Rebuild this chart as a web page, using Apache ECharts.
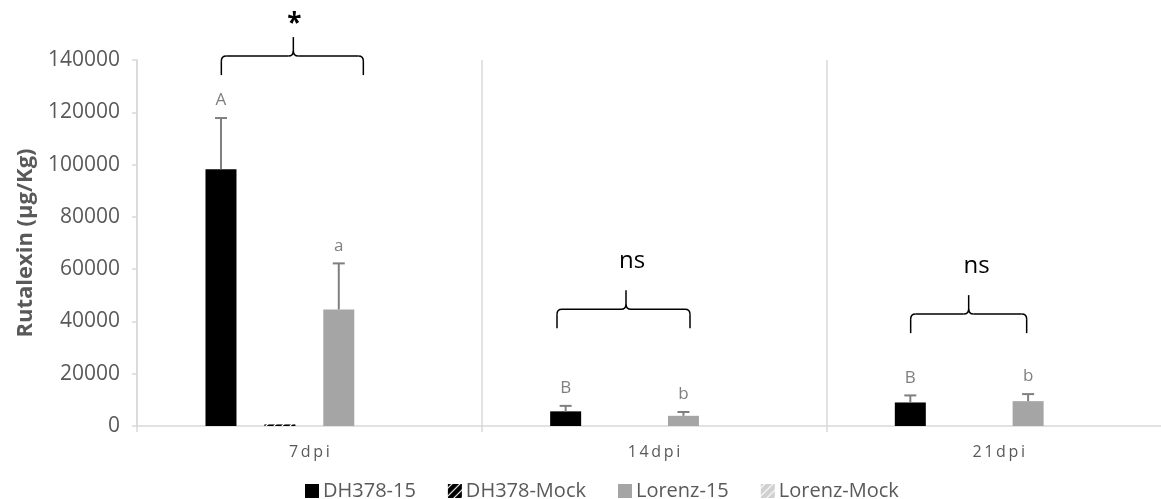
<!DOCTYPE html>
<html>
<head>
<meta charset="utf-8">
<script src="https://cdn.jsdelivr.net/npm/echarts@6/dist/echarts.min.js"></script>
<style>
html, body { margin: 0; padding: 0; background: #fff; }
#chart { width: 1161px; height: 499px; }
</style>
</head>
<body>
<div id="chart"></div>
<script>
// 数据
var categories = ['7dpi', '14dpi', '21dpi'];
var dh15 = [98200, 5600, 9000];
var dh15Err = [19600, 2100, 2700];
var dhMock = [600, 0, 0];
var lor15 = [44600, 3900, 9500];
var lor15Err = [17600, 1450, 2700];
var lorMock = [0, 0, 0];
var dhLetters = ['A', 'B', 'B'];
var lorLetters = ['a', 'b', 'b'];
var sigText = ['*', 'ns', 'ns'];
var braceLevel = [141500, 44700, 42800];

// 花括号的形状 (相对类别中心的像素偏移: 左, 右, 尖, 文字x, 文字y)
var braceShape = [[-88, 54, -16, 1, -1], [-97, 36, -28, 6, 17], [-88, 28, -30, 8, 17]];

var barW = 31;
var barGap = 0.9;
var txtColor = '#595959';
var font = '"Open Sans", sans-serif';

//斜线填充
function stripes(fg, bg, lw) {
	var c = document.createElement('canvas');
	c.width = 8;
	c.height = 8;
	var g = c.getContext('2d');
	g.fillStyle = bg;
	g.fillRect(0, 0, 8, 8);
	g.strokeStyle = fg;
	g.lineWidth = lw;
	g.beginPath();
	g.moveTo(-2, 10); g.lineTo(10, -2);
	g.moveTo(-6, 6); g.lineTo(6, -6);
	g.moveTo(2, 14); g.lineTo(14, 2);
	g.stroke();
	return c;
}

function errData(vals, errs, letters) {
	var out = [];
	for(var i = 0; i < vals.length; i++) {
		out.push([i, vals[i], errs[i], letters[i]]);
	}
	return out;
}

function errSeries(idx, vals, errs, letters) {
	return {
		type: 'custom',
		z: 5,
		silent: true,
		data: errData(vals, errs, letters),
		renderItem: function(params, api) {
			var off = (idx - 1.5) * barW * (1 + barGap);
			var p0 = api.coord([api.value(0), api.value(1)]);
			var p1 = api.coord([api.value(0), api.value(1) + api.value(2)]);
			var x = p0[0] + off;
			var st = { stroke: '#7f7f7f', lineWidth: 2 };
			return {
				type: 'group',
				children: [
					{ type: 'line', shape: { x1: x, y1: p0[1], x2: x, y2: p1[1] }, style: st },
					{ type: 'line', shape: { x1: x - 6, y1: p1[1], x2: x + 6, y2: p1[1] }, style: st },
					{ type: 'text', x: x, y: p1[1] - 9, style: {
						text: letters[params.dataIndex], fill: '#7f7f7f',
						font: '17px ' + font, align: 'center', verticalAlign: 'bottom'
					} }
				]
			};
		}
	};
}

var myChart = echarts.init(document.getElementById('chart'));

var legendNames = ['DH378-15', 'DH378-Mock', 'Lorenz-15', 'Lorenz-Mock'];
var legendPad = [0, 0, 16, 0];
var legendData = [];
for(var k = 0; k < legendNames.length; k++) {
	legendData.push({ name: legendNames[k], textStyle: { padding: [0, legendPad[k], 0, -1] } });
}

var option = {
	animation: false,
	grid: { left: 137, top: 60, width: 1034, height: 366, outerBoundsMode: 'none', containLabel: false },
	legend: {
		left: 300,
		top: 476,
		icon: 'rect',
		itemWidth: 14,
		itemHeight: 14,
		itemGap: 32,
		data: legendData,
		textStyle: { color: txtColor, fontSize: 20, fontFamily: font, padding: [0, 0, 0, -1] }
	},
	xAxis: {
		type: 'category',
		data: categories,
		axisLine: { lineStyle: { color: '#d9d9d9', width: 1.5 } },
		axisTick: { show: true, length: 6, lineStyle: { color: '#d9d9d9', width: 1.5 } },
		splitLine: { show: true, lineStyle: { color: '#d9d9d9', width: 1.5 } },
		axisLabel: {
			color: txtColor, fontSize: 16, fontFamily: font, margin: 18,
			formatter: function(v) { return v.split('').join('\u2009'); }
		}
	},
	yAxis: {
		type: 'value',
		min: 0,
		max: 140000,
		interval: 20000,
		name: 'Rutalexin (µg/Kg)',
		nameLocation: 'middle',
		nameGap: 96,
		nameTextStyle: { color: txtColor, fontSize: 22, fontWeight: 'bold', fontFamily: font },
		axisLine: { show: true, lineStyle: { color: '#d9d9d9', width: 1.5 } },
		axisTick: { show: true, length: 5, lineStyle: { color: '#d9d9d9', width: 1.5 } },
		splitLine: { show: false },
		axisLabel: {
			color: txtColor, fontSize: 21, fontFamily: font, margin: 17,
			formatter: function(v) { return String(v); }
		}
	},
	series: [
		{ name: 'DH378-15', type: 'bar', data: dh15, barWidth: barW, barGap: '90%', itemStyle: { color: '#000000' } },
		{ name: 'DH378-Mock', type: 'bar', data: dhMock, barWidth: barW, barGap: '90%',
			itemStyle: { color: { image: stripes('#000000', '#ffffff', 4.5), repeat: 'repeat' } } },
		{ name: 'Lorenz-15', type: 'bar', data: lor15, barWidth: barW, barGap: '90%', itemStyle: { color: '#a5a5a5' } },
		{ name: 'Lorenz-Mock', type: 'bar', data: lorMock, barWidth: barW, barGap: '90%',
			itemStyle: { color: { image: stripes('#d0d0d0', '#ffffff', 4.5), repeat: 'repeat' } } },
		errSeries(0, dh15, dh15Err, dhLetters),
		errSeries(2, lor15, lor15Err, lorLetters)
	]
};
myChart.setOption(option);

//显著性花括号
var graphics = [];
for(var i = 0; i < categories.length; i++) {
	var pt = myChart.convertToPixel({ gridIndex: 0 }, [i, braceLevel[i]]);
	var s = braceShape[i];
	var cx = pt[0], y = pt[1], d = 19, u = 19, r = 5;
	var x0 = cx + s[0], x1 = cx + s[1], xp = cx + s[2];
	var st = { fill: null, stroke: '#000', lineWidth: 1.5 };
	graphics.push({
		type: 'group',
		children: [
			{ type: 'line', shape: { x1: x0, y1: y + d, x2: x0, y2: y + r }, style: st },
			{ type: 'bezierCurve', shape: { x1: x0, y1: y + r, cpx1: x0, cpy1: y, x2: x0 + r, y2: y }, style: st },
			{ type: 'line', shape: { x1: x0 + r, y1: y, x2: xp - r, y2: y }, style: st },
			{ type: 'bezierCurve', shape: { x1: xp - r, y1: y, cpx1: xp, cpy1: y, x2: xp, y2: y - r }, style: st },
			{ type: 'line', shape: { x1: xp, y1: y - r, x2: xp, y2: y - u }, style: st },
			{ type: 'bezierCurve', shape: { x1: xp, y1: y - r, cpx1: xp, cpy1: y, x2: xp + r, y2: y }, style: st },
			{ type: 'line', shape: { x1: xp + r, y1: y, x2: x1 - r, y2: y }, style: st },
			{ type: 'bezierCurve', shape: { x1: x1 - r, y1: y, cpx1: x1, cpy1: y, x2: x1, y2: y + r }, style: st },
			{ type: 'line', shape: { x1: x1, y1: y + r, x2: x1, y2: y + d }, style: st }
		]
	});
	graphics.push({
		type: 'text',
		x: xp + s[3],
		y: y - u - s[4],
		style: {
			text: sigText[i], fill: '#000',
			font: (i == 0 ? 'bold 26px ' : '24px ') + font,
			align: 'center', verticalAlign: 'bottom'
		}
	});
}
myChart.setOption({ graphic: graphics });
</script>
</body>
</html>
